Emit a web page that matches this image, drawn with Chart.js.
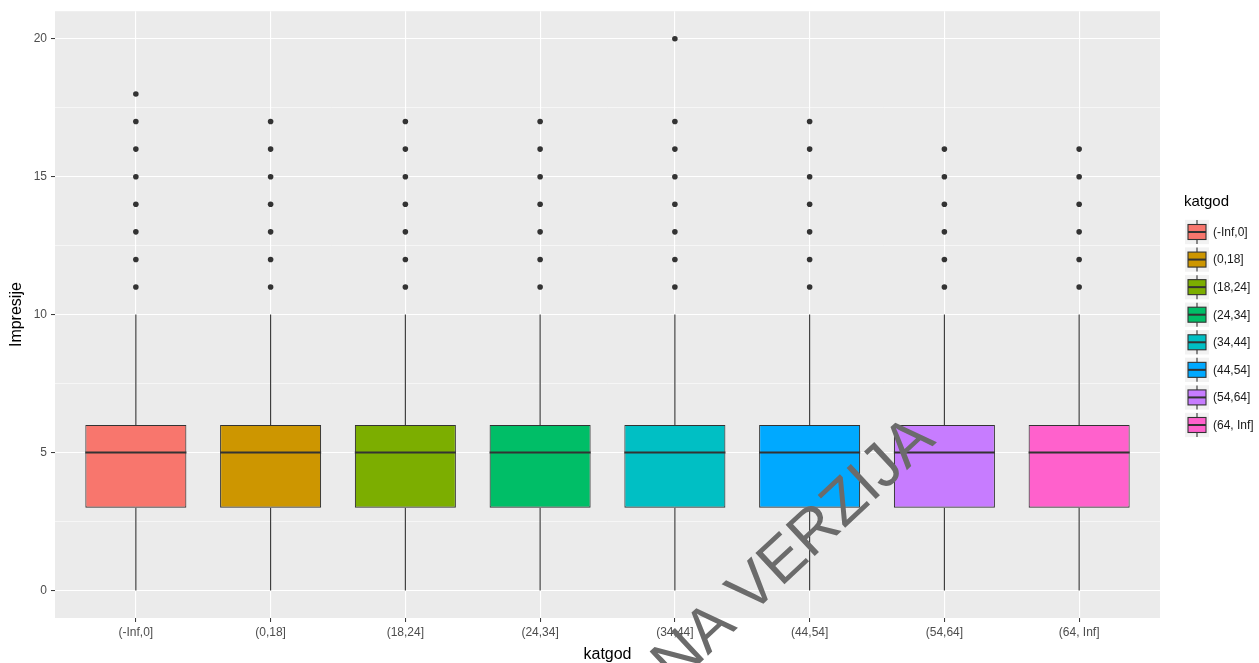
<!DOCTYPE html>
<html>
<head>
<meta charset="utf-8">
<title>Impresije po katgod</title>
<script src="https://cdn.jsdelivr.net/npm/chart.js@4/dist/chart.umd.min.js"></script>
<style>
  html, body { margin: 0; padding: 0; background: #ffffff; overflow: hidden; }
  #wrap { position: relative; width: 1259px; height: 663px; }
</style>
</head>
<body>
<div id="wrap"><canvas id="chart" width="1259" height="663"></canvas></div>
<script>
// Age groups (katgod) and the five-number summary of Impresije per group
const categories = ['(-Inf,0]', '(0,18]', '(18,24]', '(24,34]', '(34,44]', '(44,54]', '(54,64]', '(64, Inf]'];
const lowerWhisker = [0, 0, 0, 0, 0, 0, 0, 0];
const lowerHinge = [3, 3, 3, 3, 3, 3, 3, 3];
const medianValues = [5, 5, 5, 5, 5, 5, 5, 5];
const upperHinge = [6, 6, 6, 6, 6, 6, 6, 6];
const upperWhisker = [10, 10, 10, 10, 10, 10, 10, 10];
const outlierValues = [
  [11, 12, 13, 14, 15, 16, 17, 18],
  [11, 12, 13, 14, 15, 16, 17],
  [11, 12, 13, 14, 15, 16, 17],
  [11, 12, 13, 14, 15, 16, 17],
  [11, 12, 13, 14, 15, 16, 17, 20],
  [11, 12, 13, 14, 15, 16, 17],
  [11, 12, 13, 14, 15, 16],
  [11, 12, 13, 14, 15, 16]
];
const boxColors = ['#F8766D', '#CD9600', '#7CAE00', '#00BE67', '#00BFC4', '#00A9FF', '#C77CFF', '#FF61CC'];
const yMajorTicks = [0, 5, 10, 15, 20];
const yMinorTicks = [2.5, 7.5, 12.5, 17.5];

const FONT = "'Liberation Sans', Arial, Helvetica, sans-serif";
const INK = '#333333';
Chart.defaults.font.family = FONT;

const boxData = categories.map((c, i) => ({ x: i + 1, y: [lowerHinge[i], upperHinge[i]] }));
const outlierData = [];
outlierValues.forEach((vals, i) => vals.forEach(v => outlierData.push({ x: i + 1, y: v })));

// grey panel behind the plot area
const panelBackground = {
  id: 'panelBackground',
  beforeDraw(chart) {
    const { ctx, chartArea: a } = chart;
    ctx.save();
    ctx.fillStyle = '#EBEBEB';
    ctx.fillRect(a.left, a.top, a.right - a.left, a.bottom - a.top);
    ctx.restore();
  }
};

// whiskers below the boxes, median bars on top of them
const boxplotParts = {
  id: 'boxplotParts',
  beforeDatasetsDraw(chart) {
    const { ctx, scales: { x, y } } = chart;
    ctx.save();
    ctx.strokeStyle = INK;
    ctx.lineWidth = 1.1;
    categories.forEach((c, i) => {
      const px = x.getPixelForValue(i + 1);
      ctx.beginPath();
      ctx.moveTo(px, y.getPixelForValue(upperHinge[i]));
      ctx.lineTo(px, y.getPixelForValue(upperWhisker[i]));
      ctx.moveTo(px, y.getPixelForValue(lowerHinge[i]));
      ctx.lineTo(px, y.getPixelForValue(lowerWhisker[i]));
      ctx.stroke();
    });
    ctx.restore();
  },
  afterDatasetsDraw(chart) {
    const { ctx, scales: { x, y } } = chart;
    const bars = chart.getDatasetMeta(0).data;
    ctx.save();
    ctx.strokeStyle = INK;
    ctx.lineWidth = 2.2;
    categories.forEach((c, i) => {
      const px = x.getPixelForValue(i + 1);
      const half = bars[i].width / 2;
      const py = y.getPixelForValue(medianValues[i]);
      ctx.beginPath();
      ctx.moveTo(px - half, py);
      ctx.lineTo(px + half, py);
      ctx.stroke();
    });
    ctx.restore();
  }
};

// legend with small boxplot keys, and the diagonal "PROBNA VERZIJA" stamp
const sideLegend = {
  id: 'sideLegend',
  afterDraw(chart) {
    const ctx = chart.ctx;
    ctx.save();
    ctx.fillStyle = '#000000';
    ctx.font = '15px ' + FONT;
    ctx.textAlign = 'left';
    ctx.textBaseline = 'middle';
    ctx.fillText('katgod', 1184, 202);

    const keyLeft = 1185, keyW = 24, keyH = 26, step = 27.57, firstCenter = 232;
    categories.forEach((label, i) => {
      const cy = firstCenter + i * step;
      ctx.fillStyle = '#F2F2F2';
      ctx.fillRect(keyLeft, cy - keyH / 2 + 0.8, keyW, keyH - 1.6);
      const cx = keyLeft + keyW / 2;
      ctx.strokeStyle = INK;
      ctx.lineWidth = 1.1;
      ctx.beginPath();
      ctx.moveTo(cx, cy - 12); ctx.lineTo(cx, cy - 7.5);
      ctx.moveTo(cx, cy + 7.5); ctx.lineTo(cx, cy + 12);
      ctx.stroke();
      ctx.fillStyle = boxColors[i];
      ctx.fillRect(cx - 9, cy - 7.5, 18, 15);
      ctx.strokeRect(cx - 9, cy - 7.5, 18, 15);
      ctx.lineWidth = 2;
      ctx.beginPath();
      ctx.moveTo(cx - 9, cy); ctx.lineTo(cx + 9, cy);
      ctx.stroke();
      ctx.fillStyle = '#1A1A1A';
      ctx.font = '12px ' + FONT;
      ctx.fillText(label, 1213, cy + 0.5);
    });
    ctx.restore();

    ctx.save();
    ctx.translate(937, 442);
    ctx.rotate(-43 * Math.PI / 180);
    ctx.fillStyle = '#6B6B6B';
    ctx.font = '62px ' + FONT;
    ctx.textAlign = 'right';
    ctx.textBaseline = 'alphabetic';
    ctx.fillText('PROBNA VERZIJA', 0, 0);
    ctx.restore();
  }
};

new Chart(document.getElementById('chart'), {
  type: 'bar',
  data: {
    datasets: [
      {
        type: 'bar',
        label: 'katgod',
        data: boxData,
        backgroundColor: boxColors,
        borderColor: INK,
        borderWidth: 1.1,
        borderSkipped: false,
        barPercentage: 0.75,
        categoryPercentage: 1,
        order: 2
      },
      {
        type: 'scatter',
        label: 'outliers',
        data: outlierData,
        pointRadius: 2.8,
        pointHoverRadius: 2.8,
        pointBackgroundColor: INK,
        pointBorderWidth: 0,
        order: 1
      }
    ]
  },
  options: {
    responsive: false,
    animation: false,
    devicePixelRatio: 1,
    layout: { padding: { left: 0, right: 99, top: 10, bottom: 0 } },
    plugins: { legend: { display: false }, tooltip: { enabled: false } },
    scales: {
      x: {
        type: 'linear',
        min: 0.4,
        max: 8.6,
        offset: false,
        afterBuildTicks: s => { s.ticks = categories.map((c, i) => ({ value: i + 1 })); },
        afterFit: s => { s.height = 45; },
        ticks: {
          autoSkip: false,
          maxRotation: 0,
          minRotation: 0,
          padding: 3,
          color: '#4D4D4D',
          font: { size: 12 },
          callback: v => categories[Math.round(v) - 1] || ''
        },
        grid: { color: '#FFFFFF', lineWidth: 1.1, offset: false, tickLength: 4, tickColor: INK, tickWidth: 1 },
        border: { display: false },
        title: { display: true, text: 'katgod', color: '#000000', font: { size: 16, lineHeight: 1 }, padding: { top: 0, bottom: 0 } }
      },
      y: {
        type: 'linear',
        min: -1,
        max: 21,
        afterBuildTicks: s => {
          s.ticks = yMajorTicks.concat(yMinorTicks).sort((a, b) => a - b).map(v => ({ value: v }));
        },
        afterFit: s => { s.width = 55; },
        ticks: {
          padding: 4,
          color: '#4D4D4D',
          font: { size: 12 },
          callback: v => (yMajorTicks.includes(v) ? String(v) : '')
        },
        grid: {
          color: '#FFFFFF',
          lineWidth: c => (c.tick && yMajorTicks.includes(c.tick.value) ? 1.1 : 0.55),
          tickLength: 4,
          tickColor: c => (c.tick && yMajorTicks.includes(c.tick.value) ? INK : 'rgba(0,0,0,0)'),
          tickWidth: 1
        },
        border: { display: false },
        title: { display: true, text: 'Impresije', color: '#000000', font: { size: 16, lineHeight: 1.2 }, padding: { top: 7, bottom: 0 } }
      }
    }
  },
  plugins: [panelBackground, boxplotParts, sideLegend]
});
</script>
</body>
</html>
